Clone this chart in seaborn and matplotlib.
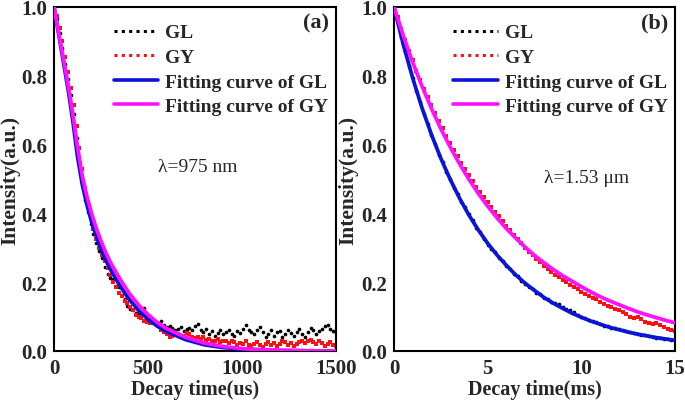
import numpy as np
import matplotlib
matplotlib.use("Agg")
import matplotlib.pyplot as plt
import seaborn as sns
from matplotlib.lines import Line2D
from matplotlib.ticker import MultipleLocator

# ---------------- data: panel (a), lambda = 975 nm ----------------
t_a = np.arange(0, 1501, 15)          # sampling times (us)
gl_a = [1.0, 0.965, 0.925, 0.88, 0.835, 0.79, 0.745, 0.69, 0.62, 0.55,
        0.49, 0.44, 0.405, 0.37, 0.34, 0.315, 0.29, 0.27, 0.245, 0.225,
        0.212, 0.21, 0.19, 0.185, 0.162, 0.15, 0.132, 0.122, 0.118, 0.11,
        0.108, 0.11, 0.125, 0.105, 0.095, 0.09, 0.085, 0.082, 0.088, 0.075,
        0.07, 0.072, 0.068, 0.062, 0.065, 0.07, 0.058, 0.063, 0.068, 0.06,
        0.072, 0.078, 0.062, 0.055, 0.065, 0.05, 0.058, 0.045, 0.052, 0.06,
        0.048, 0.055, 0.062, 0.05, 0.045, 0.058, 0.052, 0.065, 0.075, 0.062,
        0.055, 0.048, 0.06, 0.07, 0.055, 0.042, 0.05, 0.062, 0.045, 0.055,
        0.058, 0.04, 0.048, 0.06, 0.052, 0.045, 0.055, 0.065, 0.05, 0.04,
        0.055, 0.068, 0.062, 0.05, 0.058, 0.065, 0.072, 0.075, 0.065, 0.058,
        0.052]
gy_a = [1.0, 0.975, 0.94, 0.9, 0.855, 0.81, 0.765, 0.715, 0.655, 0.59,
        0.53, 0.475, 0.43, 0.39, 0.355, 0.325, 0.3, 0.28, 0.262, 0.24,
        0.22, 0.2, 0.185, 0.17, 0.16, 0.145, 0.14, 0.128, 0.12, 0.105,
        0.098, 0.095, 0.088, 0.085, 0.08, 0.082, 0.078, 0.072, 0.06, 0.055,
        0.05, 0.042, 0.045, 0.05, 0.048, 0.04, 0.045, 0.052, 0.05, 0.042,
        0.038, 0.04, 0.035, 0.04, 0.032, 0.036, 0.028, 0.03, 0.035, 0.025,
        0.03, 0.028, 0.022, 0.03, 0.025, 0.018, 0.022, 0.02, 0.028, 0.018,
        0.015, 0.02, 0.025, 0.018, 0.012, 0.02, 0.025, 0.018, 0.022, 0.015,
        0.02, 0.028, 0.025, 0.018, 0.022, 0.015, 0.02, 0.025, 0.03, 0.022,
        0.028, 0.032, 0.025, 0.02, 0.028, 0.022, 0.015, 0.02, 0.025, 0.018,
        0.015]
tf_a = [0, 25, 50, 75, 100, 125, 150, 175, 200, 225, 250, 275, 300, 350,
        400, 450, 500, 550, 600, 700, 800, 900, 1000, 1100, 1200, 1350, 1500]
fit_gl_a = [1.0, 0.92, 0.84, 0.76, 0.67, 0.565, 0.485, 0.425, 0.375, 0.335,
            0.297, 0.265, 0.237, 0.19, 0.15, 0.118, 0.092, 0.072, 0.056,
            0.033, 0.018, 0.010, 0.005, 0.003, 0.0015, 0.0005, 0.0]
fit_gy_a = [1.0, 0.925, 0.85, 0.775, 0.69, 0.595, 0.51, 0.45, 0.40, 0.357,
            0.32, 0.287, 0.258, 0.21, 0.168, 0.134, 0.106, 0.083, 0.065,
            0.04, 0.023, 0.013, 0.007, 0.004, 0.002, 0.0007, 0.0]

# ---------------- data: panel (b), lambda = 1.53 um ----------------
t_b = np.arange(0, 76) * 0.2          # sampling times (ms)
gl_b = [1.000, 0.958, 0.912, 0.872, 0.829, 0.795, 0.755, 0.725, 0.688, 0.660,
        0.627, 0.602, 0.571, 0.549, 0.520, 0.500, 0.474, 0.456, 0.432, 0.418,
        0.398, 0.380, 0.358, 0.346, 0.326, 0.309, 0.297, 0.287, 0.271, 0.262,
        0.246, 0.238, 0.225, 0.218, 0.204, 0.195, 0.186, 0.181, 0.170, 0.166,
        0.154, 0.151, 0.141, 0.140, 0.136, 0.127, 0.122, 0.120, 0.112, 0.106,
        0.100, 0.095, 0.091, 0.087, 0.083, 0.079, 0.073, 0.072, 0.068, 0.066,
        0.063, 0.061, 0.058, 0.055, 0.052, 0.050, 0.047, 0.046, 0.043, 0.042,
        0.039, 0.037, 0.035, 0.034, 0.033, 0.031]
gy_b = [1.000, 0.970, 0.937, 0.905, 0.873, 0.845, 0.815, 0.788, 0.762, 0.738,
        0.715, 0.692, 0.669, 0.647, 0.626, 0.605, 0.585, 0.566, 0.547, 0.530,
        0.512, 0.495, 0.478, 0.463, 0.448, 0.433, 0.420, 0.405, 0.392, 0.378,
        0.364, 0.352, 0.338, 0.326, 0.313, 0.300, 0.288, 0.279, 0.268, 0.258,
        0.247, 0.238, 0.230, 0.222, 0.214, 0.205, 0.200, 0.192, 0.185, 0.180,
        0.172, 0.166, 0.160, 0.155, 0.150, 0.143, 0.138, 0.132, 0.128, 0.122,
        0.118, 0.113, 0.108, 0.100, 0.095, 0.098, 0.092, 0.085, 0.080, 0.078,
        0.082, 0.075, 0.070, 0.065, 0.060, 0.058]
tf_b = [0, 0.5, 1, 1.5, 2, 2.5, 3, 3.5, 4, 4.5, 5, 5.5, 6, 6.5, 7, 7.5, 8,
        8.5, 9, 9.5, 10, 10.5, 11, 11.5, 12, 12.5, 13, 13.5, 14, 14.5, 15]
fit_gl_b = [1.000, 0.890, 0.793, 0.706, 0.629, 0.560, 0.499, 0.444, 0.395,
            0.352, 0.313, 0.279, 0.249, 0.221, 0.197, 0.176, 0.156, 0.139,
            0.124, 0.110, 0.098, 0.087, 0.078, 0.069, 0.062, 0.055, 0.049,
            0.044, 0.039, 0.035, 0.031]
fit_gy_b = [1.000, 0.916, 0.839, 0.769, 0.705, 0.646, 0.593, 0.544, 0.499,
            0.458, 0.421, 0.387, 0.356, 0.328, 0.302, 0.278, 0.257, 0.237,
            0.219, 0.203, 0.187, 0.172, 0.158, 0.146, 0.135, 0.124, 0.114,
            0.105, 0.097, 0.089, 0.082]

labels = ["GL", "GY", "Fitting curve of GL", "Fitting curve of GY"]

# ---------------- styling ----------------
sns.set_style("white")
plt.rcParams["font.family"] = ["Liberation Serif", "DejaVu Serif"]
plt.rcParams["font.weight"] = "bold"
plt.rcParams["axes.labelweight"] = "bold"

C_BLACK = "#000000"
C_RED = "#ff1010"
C_BLUE = "#0a14d8"
C_MAG = "#ff10ff"

fig = plt.figure(figsize=(6.85, 4.06), dpi=100)
ax_a = fig.add_axes([54 / 685, 54 / 406, 282 / 685, 344 / 406])
ax_b = fig.add_axes([394 / 685, 54 / 406, 281 / 685, 344 / 406])


def draw(ax, t, gl, gy, tf, fgl, fgy):
    sns.scatterplot(x=t, y=gl, ax=ax, color=C_BLACK, s=7, linewidth=0,
                    marker="o", zorder=2, legend=False)
    sns.scatterplot(x=t, y=gy, ax=ax, color=C_RED, s=6, linewidth=0,
                    marker="s", zorder=2, legend=False)
    sns.lineplot(x=tf, y=fgl, ax=ax, color=C_BLUE, lw=2.7, zorder=3,
                 legend=False)
    sns.lineplot(x=tf, y=fgy, ax=ax, color=C_MAG, lw=2.7, zorder=4,
                 legend=False)


draw(ax_a, t_a, gl_a, gy_a, tf_a, fit_gl_a, fit_gy_a)
draw(ax_b, t_b, gl_b, gy_b, tf_b, fit_gl_b, fit_gy_b)

handles = [
    Line2D([], [], color=C_BLACK, ls=(0, (1, 1.4)), lw=2.2),
    Line2D([], [], color=C_RED, ls=(0, (1, 1.4)), lw=2.2),
    Line2D([], [], color=C_BLUE, lw=2.6),
    Line2D([], [], color=C_MAG, lw=2.6),
]

for ax, xmax, major, minor, xlabel, tag, lam, lampos, ylx in [
    (ax_a, 1500, 500, 250, "Decay time(us)", "(a)", "λ=975 nm",
     (0.37, 0.535), -0.118),
    (ax_b, 15, 5, 2.5, "Decay time(ms)", "(b)", "λ=1.53 μm",
     (0.535, 0.505), -0.126),
]:
    ax.set_xlim(0, xmax)
    ax.set_ylim(0, 1.0)
    ax.xaxis.set_major_locator(MultipleLocator(major))
    ax.xaxis.set_minor_locator(MultipleLocator(minor))
    ax.yaxis.set_major_locator(MultipleLocator(0.2))
    ax.yaxis.set_minor_locator(MultipleLocator(0.1))
    ax.yaxis.set_major_formatter(matplotlib.ticker.FormatStrFormatter("%.1f"))
    ax.tick_params(which="major", direction="in", length=5, width=1.3,
                   labelsize=15, pad=5)
    ax.tick_params(which="minor", direction="in", length=5, width=1.3)
    for lab in ax.get_xticklabels() + ax.get_yticklabels():
        lab.set_fontweight("bold")
    for sp in ax.spines.values():
        sp.set_linewidth(1.5)
        sp.set_color("black")
    ax.set_xlabel(xlabel, fontsize=14.5, fontweight="bold", labelpad=1)
    ax.set_ylabel("Intensity(a.u.)", fontsize=15.5, fontweight="bold")
    ax.yaxis.set_label_coords(ylx, 0.5)
    ax.text(0.975, 0.955, tag, transform=ax.transAxes, ha="right",
            va="center", fontsize=16, fontweight="bold")
    ax.text(lampos[0], lampos[1], lam, transform=ax.transAxes, ha="left",
            va="center", fontsize=14, fontweight="normal")
    ax.legend(handles, labels, loc="upper left", bbox_to_anchor=(0.17, 0.985),
              frameon=False, handlelength=2.3, handletextpad=0.35,
              labelspacing=0.36, prop={"size": 14, "weight": "bold"},
              borderaxespad=0.2)

fig.savefig("out.png", dpi=100)
